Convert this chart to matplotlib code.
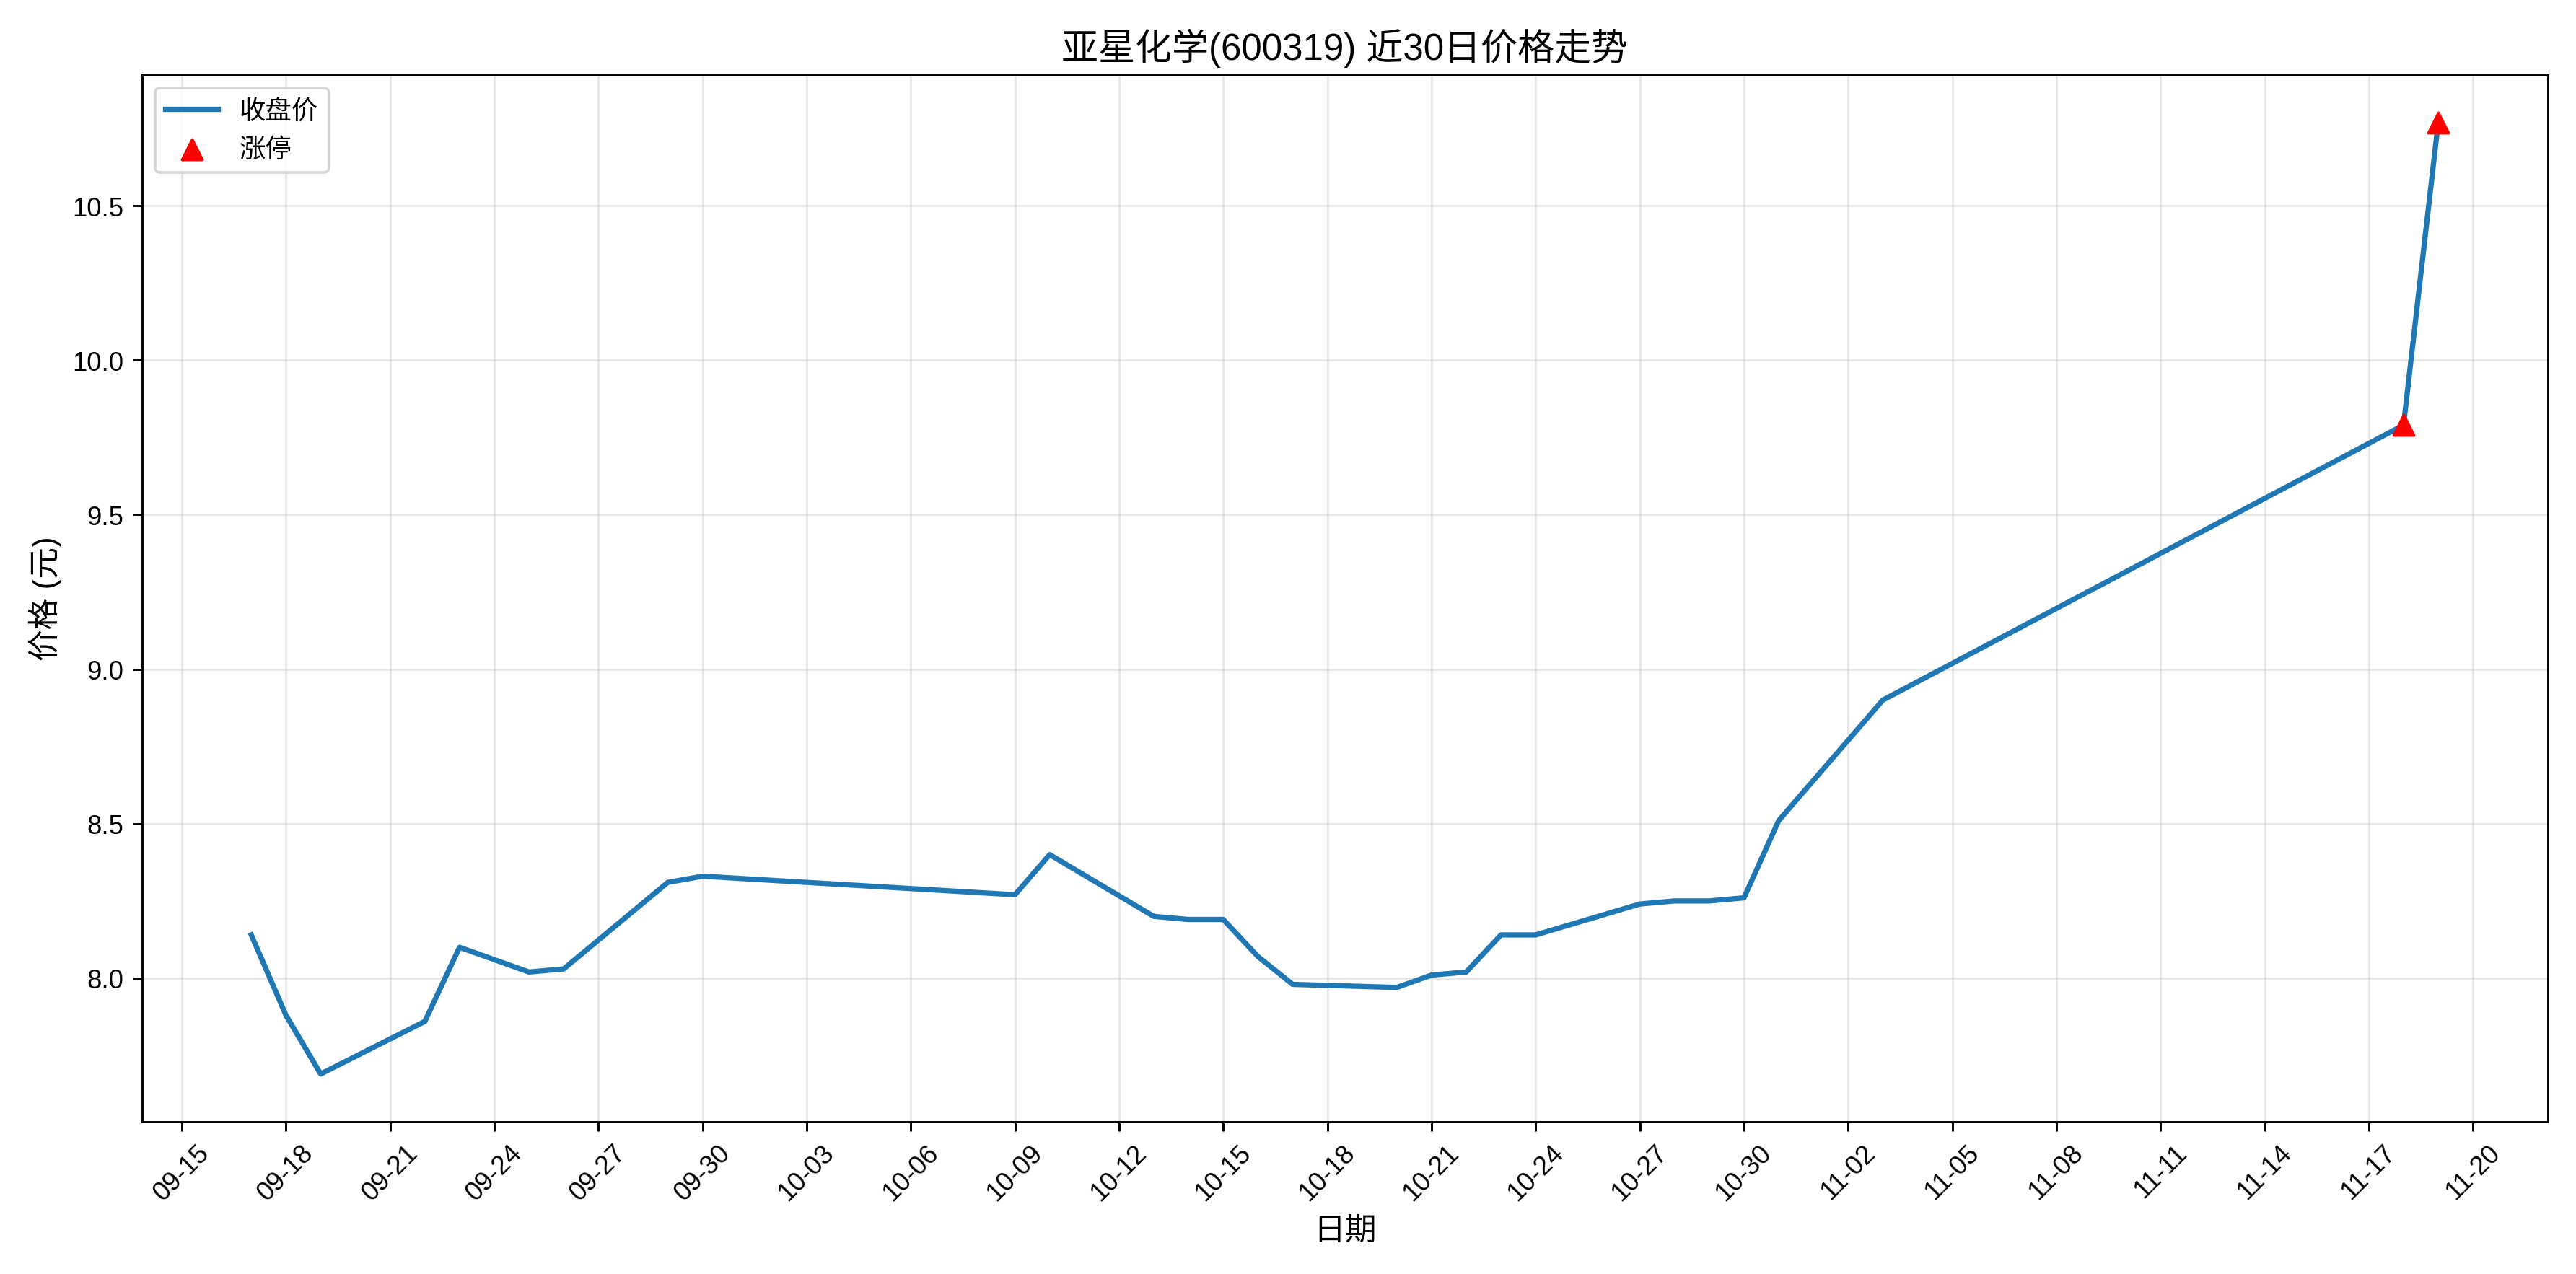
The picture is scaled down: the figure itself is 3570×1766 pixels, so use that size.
import matplotlib
matplotlib.use("Agg")
import matplotlib.pyplot as plt
import matplotlib.dates as mdates
import pandas as pd

plt.rcParams['font.family'] = ['Liberation Sans', 'Noto Sans CJK SC', 'DejaVu Sans']
plt.rcParams['axes.unicode_minus'] = False

dates = ["2025-09-17","2025-09-18","2025-09-19","2025-09-22","2025-09-23","2025-09-25","2025-09-26",
         "2025-09-29","2025-09-30","2025-10-09","2025-10-10","2025-10-13","2025-10-14","2025-10-15",
         "2025-10-16","2025-10-17","2025-10-20","2025-10-21","2025-10-22","2025-10-23","2025-10-24",
         "2025-10-27","2025-10-28","2025-10-29","2025-10-30","2025-10-31","2025-11-03","2025-11-18","2025-11-19"]
close = [8.14,7.88,7.69,7.86,8.10,8.02,8.03,8.31,8.33,8.27,8.40,8.20,8.19,8.19,
         8.07,7.98,7.97,8.01,8.02,8.14,8.14,8.24,8.25,8.25,8.26,8.51,8.90,9.79,10.77]
limit_dates = ["2025-11-18","2025-11-19"]
limit_prices = [9.79,10.77]

d = pd.to_datetime(dates)
fig, ax = plt.subplots(figsize=(13.6, 6.731), dpi=262.5)
ax.plot(d, close, color='#1f77b4', linewidth=2, label='收盘价')
ax.scatter(pd.to_datetime(limit_dates), limit_prices, color='red', marker='^', s=60, zorder=5, label='涨停')
ax.set_title('亚星化学(600319) 近30日价格走势', fontsize=14)
ax.set_xlabel('日期', fontsize=12)
ax.set_ylabel('价格 (元)', fontsize=12)
ax.set_xticks(pd.date_range('2025-09-15', '2025-11-20', freq='3D'))
ax.xaxis.set_major_formatter(mdates.DateFormatter('%m-%d'))
plt.setp(ax.get_xticklabels(), rotation=45)
ax.grid(True, alpha=0.3)
ax.legend(loc='upper left')
fig.tight_layout()
fig.savefig('out.png', dpi=262.5)
